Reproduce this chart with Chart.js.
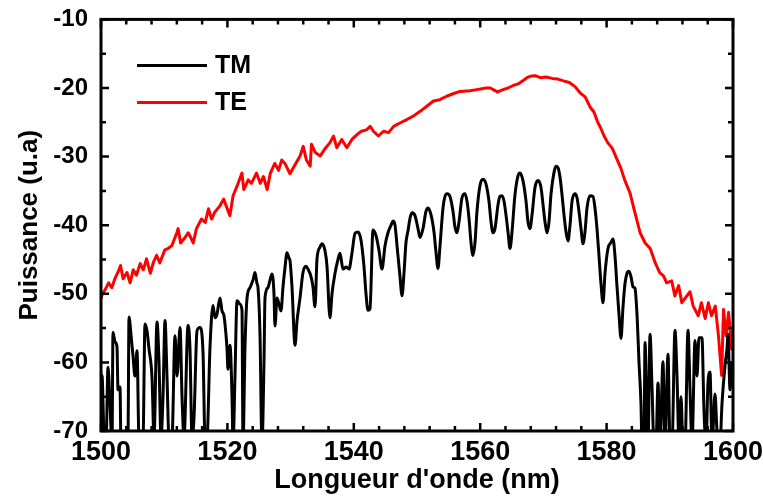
<!DOCTYPE html>
<html>
<head>
<meta charset="utf-8">
<script src="https://cdn.jsdelivr.net/npm/chart.js@4/dist/chart.umd.min.js"></script>
<style>
  html, body { margin: 0; padding: 0; background: #fff; }
  #wrap { width: 763px; height: 502px; }
</style>
</head>
<body>
<div id="wrap"><canvas id="spectre"></canvas></div>
<script>
// Spectre TM (nm / u.a)
const tmWavelength = [
  1500.00,1500.16,1500.47,1500.79,1501.11,1501.42,1501.74,1501.90,1502.22,1502.53,1502.69,1503.01,1503.16,1503.96,
  1504.27,1504.43,1504.75,1505.06,1505.38,1505.70,1506.01,1506.65,1506.96,1507.28,1507.59,1508.07,1508.39,1508.86,
  1509.18,1509.49,1509.81,1510.13,1510.44,1510.76,1511.23,1511.71,1512.03,1512.50,1512.82,1513.13,1513.77,1514.08,
  1514.40,1514.72,1515.19,1515.66,1516.14,1516.46,1516.77,1517.25,1517.72,1518.04,1518.35,1518.83,1519.15,1519.46,
  1519.78,1519.94,1520.09,1520.41,1520.73,1520.89,1521.20,1521.52,1521.99,1522.31,1522.47,1522.78,1523.10,1523.58,
  1524.05,1524.37,1524.68,1524.84,1525.16,1525.47,1525.79,1525.95,1526.42,1526.74,1527.06,1527.37,1527.53,1527.85,
  1528.16,1528.48,1528.80,1529.11,1529.43,1529.75,1529.91,1530.22,1530.70,1531.01,1531.49,1531.96,1532.44,1532.75,
  1533.23,1533.54,1533.86,1534.18,1534.65,1534.97,1535.44,1535.76,1536.23,1536.55,1537.03,1537.50,1537.82,1538.29,
  1538.77,1539.24,1539.72,1540.19,1540.66,1541.14,1541.61,1541.93,1542.25,1542.56,1543.04,1543.51,1543.99,1544.46,
  1544.94,1545.41,1545.89,1546.20,1546.52,1546.84,1547.31,1547.63,1547.94,1548.26,1548.58,1548.89,1549.21,1549.68,
  1550.16,1550.47,1550.95,1551.42,1551.74,1552.22,1552.69,1553.01,1553.32,1553.64,1554.11,1554.43,1554.75,1555.22,
  1555.70,1556.01,1556.33,1556.65,1557.12,1557.59,1557.91,1558.23,1558.54,1558.86,1559.18,1559.49,1559.97,1560.44,
  1560.92,1561.39,1561.71,1562.03,1562.34,1562.82,1563.13,1563.45,1563.77,1564.08,1564.40,1564.72,1565.03,1565.51,
  1565.98,1566.30,1566.77,1567.25,1567.56,1567.88,1568.20,1568.67,1569.15,1569.62,1569.94,1570.25,1570.57,1570.89,
  1571.20,1571.68,1571.99,1572.31,1572.63,1572.94,1573.26,1573.58,1573.89,1574.21,1574.53,1575.00,1575.32,1575.63,
  1575.95,1576.27,1576.58,1576.90,1577.37,1577.85,1578.16,1578.48,1578.80,1579.11,1579.43,1579.75,1580.22,1580.70,
  1581.01,1581.33,1581.65,1581.96,1582.28,1582.59,1582.91,1583.23,1583.54,1583.86,1584.18,1584.49,1584.81,1585.13,
  1585.44,1585.60,1585.92,1586.08,1586.39,1586.55,1586.87,1587.18,1587.50,1587.82,1588.13,1588.45,1588.92,1589.24,
  1589.72,1590.03,1590.35,1590.82,1591.14,1591.46,1591.77,1592.09,1592.41,1592.88,1593.20,1593.51,1593.99,1594.30,
  1594.62,1595.09,1595.41,1595.73,1596.04,1596.36,1596.68,1597.15,1597.47,1597.94,1598.26,1598.73,1599.05,1599.21,
  1599.53,1599.84,1600.00
];
const tmPower = [
  -72,-61.9,-70.5,-72,-60.7,-66,-72,-55.6,-57.0,-57.7,-64,-63.6,-72,-72,
  -71,-53.4,-56,-59,-62,-58.3,-71,-71,-54.4,-55.4,-58,-62.2,-71,-54.1,
  -60,-71,-65,-53.9,-62,-71,-71,-56.1,-62,-54.9,-65,-71,-54.6,-58,
  -71,-68,-55.4,-54.9,-58.5,-71,-71,-57.7,-51.7,-53.5,-53.0,-50.6,-52.5,-53.2,
  -56,-58.0,-61,-57.5,-65,-72,-62,-51,-51.5,-52.4,-72,-58,-50.7,-49.1,
  -48,-46.9,-48.5,-49.1,-56,-72,-60,-50.6,-49.1,-48,-47.1,-50,-54.7,-50.6,
  -51.5,-52.5,-49,-46.2,-44.0,-44.8,-45.2,-49,-57.5,-54,-50.6,-46.9,-46.0,-46.4,
  -47.5,-49,-51.9,-44.9,-43.2,-42.7,-43.7,-46,-53.5,-50,-47,-45,-44.1,-46.4,
  -46.1,-46.4,-44,-41.2,-41.0,-42.2,-46,-50,-52.4,-52.2,-40.7,-41.5,-43.7,-46.4,
  -43,-41.1,-40,-39.4,-40,-43,-47.5,-50.3,-47,-42.5,-40.8,-39,-38.2,-38.6,
  -40.5,-41.8,-40.5,-38,-37.5,-38.5,-41,-44,-46.3,-43,-37.5,-35.8,-35.4,-35.8,
  -38,-40.3,-41.1,-39.5,-36.0,-35.4,-36.5,-39,-42.5,-44.4,-42.5,-38,-34.2,-33.3,
  -34,-36.5,-39.5,-41.1,-40.5,-37,-35.8,-35.7,-36.5,-38.5,-41,-43.4,-41,-35.5,
  -32.8,-32.4,-33.5,-36.5,-39.5,-40.5,-38.5,-34.5,-33.5,-34.5,-37,-39.5,-41.1,-39.5,
  -35.5,-32.3,-31.4,-31.6,-33,-35.5,-38.5,-41,-42.3,-40,-36.5,-35.4,-36,-38,
  -40.5,-42.7,-41,-37.5,-35.7,-35.8,-37.5,-40.5,-44.5,-48.5,-51.3,-47,-43.4,-42.5,
  -42,-44.5,-49,-53,-56.5,-52,-48.5,-47,-46.7,-47.5,-49,-49.2,-53,-60,
  -66,-72,-72,-57.1,-68,-72,-55.9,-63.4,-72,-72,-63,-72,-59.9,-72,
  -58.8,-72,-72,-55.3,-62,-72,-65,-72,-72,-55.3,-64,-72,-56.8,-62,
  -56.4,-56.4,-67,-72,-63,-61.4,-72,-64.6,-70,-72,-66,-60.5,-58,-55.9,
  -64,-60,-62
];

// Spectre TE
const teWavelength = [
  1500.0,1500.1,1500.6,1501.2,1501.7,1502.2,1502.7,1503.1,1503.5,1504.1,1504.6,1505.1,1505.6,1506.2,1506.7,1507.2,
  1507.8,1508.3,1508.8,1509.3,1510.1,1510.6,1511.2,1512.0,1512.2,1512.6,1513.3,1513.8,1514.1,1514.6,1515.1,1515.9,
  1516.5,1517.0,1517.5,1518.0,1518.8,1519.4,1519.9,1520.4,1520.9,1521.7,1522.3,1522.6,1523.3,1523.8,1524.6,1525.2,
  1525.7,1526.3,1526.8,1527.5,1528.1,1528.6,1529.1,1529.9,1530.7,1531.5,1532.0,1532.5,1533.1,1533.3,1533.9,1534.7,
  1535.4,1536.2,1536.8,1537.3,1538.1,1538.9,1539.7,1540.5,1541.2,1542.0,1542.6,1543.1,1543.9,1544.7,1545.5,1546.3,
  1547.3,1548.4,1549.4,1550.5,1551.5,1552.6,1553.6,1554.7,1555.8,1556.8,1558.4,1559.7,1560.9,1561.6,1562.2,1562.7,
  1563.4,1564.4,1565.3,1566.0,1566.8,1567.4,1567.9,1568.7,1569.5,1570.4,1571.4,1572.3,1573.3,1574.1,1575.0,1575.8,
  1576.6,1577.4,1578.0,1578.6,1579.1,1579.6,1580.2,1580.9,1581.6,1582.3,1582.9,1583.7,1584.3,1585.3,1586.1,1586.9,
  1587.7,1588.4,1589.0,1589.5,1590.3,1590.8,1591.4,1591.9,1592.7,1593.2,1593.7,1594.5,1595.0,1595.6,1596.1,1596.6,
  1597.2,1597.7,1598.2,1598.5,1598.9,1599.3,1599.8,1600.0
];
const tePower = [
  -50.5,-50.3,-49.5,-48.4,-49.1,-47.8,-46.8,-45.9,-47.8,-46.9,-48.4,-46.5,-47.3,-45.6,-46.5,-44.9,
  -47.0,-45.4,-44.4,-45.5,-43.6,-43.4,-43.0,-41.1,-40.5,-42.6,-41.8,-41.1,-41.6,-42.6,-40.5,-39.1,
  -39.6,-37.6,-39.1,-38.1,-37.2,-36.2,-37.4,-38.6,-35.7,-33.9,-32.4,-34.8,-33.4,-33.9,-32.4,-33.9,
  -32.9,-34.8,-32.4,-31.0,-32.0,-30.5,-31.0,-32.5,-31.2,-29.9,-28.5,-30.5,-31.4,-28.2,-29.4,-29.9,
  -28.9,-28.0,-27.0,-28.7,-27.5,-28.7,-27.5,-26.8,-26.3,-26.1,-25.6,-26.3,-27.0,-26.3,-26.5,-25.6,
  -25.1,-24.6,-24.1,-23.4,-22.7,-21.9,-21.7,-21.2,-20.8,-20.5,-20.4,-20.2,-20.0,-20.0,-20.3,-20.6,
  -20.3,-20.0,-19.6,-19.4,-18.9,-18.5,-18.3,-18.2,-18.5,-18.4,-18.6,-18.7,-19.0,-19.2,-19.8,-20.7,
  -21.3,-22.8,-23.5,-25.0,-25.9,-27.0,-28.0,-28.8,-30.3,-31.8,-33.5,-35.3,-37.5,-41.1,-42.6,-43.4,
  -45.5,-46.9,-47.4,-48.4,-48.1,-50.3,-48.8,-51.3,-50.3,-49.7,-51.8,-53.2,-51.3,-53.6,-51.3,-53.2,
  -51.8,-56.1,-61.9,-52.3,-56.1,-52.7,-58.1,-57.0
];

const xMin = 1500, xMax = 1600, xMajor = 20, xMinor = 4;
const yMin = -70, yMax = -10, yMajor = 10, yMinor = 5;

const fontFam = "'Liberation Sans', Arial, sans-serif";

// cadre + graduations vers l'intérieur, sur les 4 côtés
const framePlugin = {
  id: 'frame',
  afterDatasetsDraw(chart) {
    const {ctx, chartArea: a, scales: {x, y}} = chart;
    ctx.save();
    ctx.strokeStyle = '#000';
    ctx.lineWidth = 2.5;
    ctx.beginPath();
    for (let i = 0; i <= (xMax - xMin) / xMinor; i++) {
      const v = xMin + i * xMinor;
      const px = x.getPixelForValue(v);
      const len = (v - xMin) % xMajor === 0 ? 8 : 5;
      ctx.moveTo(px, a.bottom); ctx.lineTo(px, a.bottom - len);
      ctx.moveTo(px, a.top); ctx.lineTo(px, a.top + len);
    }
    for (let i = 0; i <= (yMax - yMin) / yMinor; i++) {
      const v = yMin + i * yMinor;
      const py = y.getPixelForValue(v);
      const len = (v - yMin) % yMajor === 0 ? 8 : 5;
      ctx.moveTo(a.left, py); ctx.lineTo(a.left + len, py);
      ctx.moveTo(a.right, py); ctx.lineTo(a.right - len, py);
    }
    ctx.stroke();
    ctx.lineWidth = 3;
    ctx.strokeRect(a.left, a.top, a.right - a.left, a.bottom - a.top);
    ctx.restore();
  }
};

// légende dans le cadre, en haut à gauche
const legendPlugin = {
  id: 'insideLegend',
  afterDraw(chart) {
    const {ctx, chartArea: a} = chart;
    ctx.save();
    ctx.font = 'bold 25px ' + fontFam;
    ctx.textBaseline = 'middle';
    ctx.fillStyle = '#000';
    chart.data.datasets.forEach((ds, i) => {
      const yy = a.top + 46 + i * 37;
      ctx.strokeStyle = ds.borderColor;
      ctx.lineWidth = 3;
      ctx.beginPath();
      ctx.moveTo(a.left + 36, yy);
      ctx.lineTo(a.left + 106, yy);
      ctx.stroke();
      ctx.fillText(ds.label, a.left + 114, yy + 1);
    });
    ctx.restore();
  }
};

function toPoints(xs, ys) {
  return xs.map((v, i) => ({x: v, y: ys[i]}));
}

new Chart(document.getElementById('spectre'), {
  type: 'line',
  data: {
    datasets: [{
      label: 'TM',
      data: toPoints(tmWavelength, tmPower),
      borderColor: '#000000',
      borderWidth: 3,
      pointRadius: 0,
      borderJoinStyle: 'round',
      cubicInterpolationMode: 'monotone'
    }, {
      label: 'TE',
      data: toPoints(teWavelength, tePower),
      borderColor: '#ff0000',
      borderWidth: 3,
      pointRadius: 0,
      borderJoinStyle: 'round',
      tension: 0
    }]
  },
  options: {
    responsive: true,
    maintainAspectRatio: false,
    animation: false,
    layout: { padding: { top: 18, right: 30, left: 0, bottom: 0 } },
    plugins: {
      legend: { display: false },
      tooltip: { enabled: false }
    },
    scales: {
      x: {
        type: 'linear',
        min: xMin,
        max: xMax,
        grid: { display: false },
        border: { display: false },
        ticks: {
          stepSize: xMajor,
          padding: -3,
          color: '#000',
          callback: (v) => String(v),
          font: { family: fontFam, size: 27, weight: 'bold' }
        },
        title: {
          display: true,
          text: "Longueur d'onde (nm)",
          color: '#000',
          padding: { top: 0, bottom: 5 },
          font: { family: fontFam, size: 27, weight: 'bold' }
        },
        afterFit(scale) { scale.height = 71; }
      },
      y: {
        min: yMin,
        max: yMax,
        grid: { display: false },
        border: { display: false },
        ticks: {
          stepSize: yMajor,
          padding: 5,
          color: '#000',
          font: { family: fontFam, size: 24, weight: 'bold' }
        },
        title: {
          display: true,
          text: 'Puissance (u.a)',
          color: '#000',
          padding: { top: 14, bottom: 0 },
          font: { family: fontFam, size: 26, weight: 'bold' }
        },
        afterFit(scale) { scale.width = 101; }
      }
    }
  },
  plugins: [framePlugin, legendPlugin]
});
</script>
</body>
</html>
